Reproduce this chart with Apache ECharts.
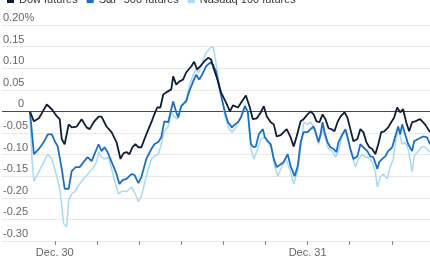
<!DOCTYPE html>
<html>
<head>
<meta charset="utf-8">
<script src="https://cdn.jsdelivr.net/npm/echarts@6/dist/echarts.min.js"></script>
<style>
  html, body { margin: 0; padding: 0; background: #fff; }
  #chart { width: 430px; height: 258px; }
</style>
</head>
<body>
<div id="chart"></div>
<script>
  // hours since Dec. 30 00:00, % change
  var dowHours = [-2.36, -1.98, -1.51, -1.13, -0.76, -0.28, 0.19, 0.47, 0.66, 0.94, 1.32, 1.61, 2.08, 2.55, 3.02, 3.31, 3.69, 4.16, 4.44, 4.91, 5.39, 5.86, 6.24, 6.52, 6.80, 7.09, 7.37, 7.65, 7.94, 8.22, 8.69, 9.17, 9.45, 9.73, 10.02, 10.30, 10.58, 11.06, 11.24, 11.53, 11.81, 12.19, 12.47, 12.95, 13.23, 13.51, 13.80, 14.17, 14.55, 14.84, 15.12, 15.50, 15.78, 16.25, 16.63, 16.91, 17.39, 17.76, 18.14, 18.52, 18.80, 19.18, 19.56, 19.84, 20.13, 20.50, 20.79, 21.07, 21.45, 21.73, 22.02, 22.39, 22.68, 22.96, 23.34, 23.62, 24.00, 24.28, 24.57, 24.85, 25.13, 25.42, 25.70, 25.99, 26.27, 26.55, 26.84, 27.12, 27.50, 27.78, 28.06, 28.35, 28.73, 29.01, 29.29, 29.58, 29.86, 30.14, 30.43, 30.71, 30.99, 31.28, 31.65, 31.94, 32.22, 32.50, 32.79, 33.07, 33.36, 33.64, 33.92, 34.21, 34.68, 35.15, 35.62];
  var dowValues = [0, -0.023, -0.016, 0, 0.016, 0.005, -0.011, -0.018, -0.064, -0.076, -0.030, -0.037, -0.035, -0.018, -0.037, -0.041, -0.025, -0.012, -0.012, -0.035, -0.048, -0.071, -0.110, -0.097, -0.094, -0.099, -0.083, -0.076, -0.083, -0.083, -0.053, -0.025, -0.007, 0.009, 0.009, 0.039, 0.044, 0.051, 0.081, 0.062, 0.069, 0.074, 0.090, 0.104, 0.115, 0.097, 0.104, 0.115, 0.124, 0.120, 0.097, 0.069, 0.044, 0.021, 0, 0.014, 0.009, 0.023, 0.037, 0.009, -0.018, -0.016, -0.002, 0.012, -0.012, -0.025, -0.030, -0.058, -0.055, -0.048, -0.041, -0.060, -0.081, -0.058, -0.023, -0.018, -0.007, 0, -0.007, -0.023, -0.025, -0.007, -0.018, -0.039, -0.041, -0.046, -0.025, -0.012, -0.002, -0.014, -0.041, -0.069, -0.064, -0.041, -0.048, -0.071, -0.083, -0.087, -0.099, -0.076, -0.048, -0.046, -0.037, -0.025, -0.014, 0.009, -0.002, 0.005, -0.025, -0.046, -0.025, -0.023, -0.018, -0.030, -0.048];

  var spHours = [-2.36, -1.98, -1.51, -1.04, -0.66, -0.28, 0, 0.28, 0.66, 0.94, 1.32, 1.61, 1.98, 2.36, 2.74, 3.12, 3.50, 3.97, 4.16, 4.44, 4.72, 5.01, 5.39, 5.67, 5.86, 6.14, 6.43, 6.80, 7.28, 7.56, 7.94, 8.22, 8.69, 9.17, 9.45, 9.83, 10.11, 10.39, 10.77, 11.06, 11.24, 11.53, 11.72, 12.00, 12.47, 12.76, 13.13, 13.42, 13.70, 13.99, 14.36, 14.74, 15.02, 15.31, 15.59, 15.87, 16.16, 16.44, 16.82, 17.10, 17.39, 17.67, 18.05, 18.33, 18.62, 18.90, 19.09, 19.37, 19.75, 19.94, 20.22, 20.50, 20.79, 21.07, 21.36, 21.73, 22.11, 22.39, 22.77, 23.06, 23.34, 23.62, 24.00, 24.28, 24.57, 24.76, 25.04, 25.23, 25.42, 25.61, 25.89, 26.17, 26.46, 26.74, 26.93, 27.31, 27.59, 27.78, 28.06, 28.35, 28.73, 29.01, 29.29, 29.67, 29.95, 30.24, 30.62, 30.81, 31.09, 31.37, 31.65, 32.03, 32.32, 32.60, 32.79, 32.98, 33.26, 33.55, 33.92, 34.11, 34.49, 34.96, 35.34, 35.62];
  var spValues = [0, -0.099, -0.087, -0.071, -0.053, -0.053, -0.069, -0.081, -0.133, -0.179, -0.179, -0.138, -0.129, -0.129, -0.117, -0.106, -0.115, -0.087, -0.076, -0.092, -0.083, -0.094, -0.117, -0.133, -0.145, -0.168, -0.159, -0.156, -0.145, -0.147, -0.166, -0.152, -0.110, -0.087, -0.076, -0.071, -0.060, -0.023, -0.025, 0.005, 0.023, -0.002, -0.014, 0.012, 0.023, 0.046, 0.069, 0.085, 0.074, 0.085, 0.104, 0.113, 0.108, 0.092, 0.058, 0.028, -0.002, -0.025, -0.037, -0.030, -0.025, -0.014, 0.012, -0.002, -0.076, -0.083, -0.081, -0.053, -0.041, -0.060, -0.069, -0.076, -0.110, -0.129, -0.124, -0.117, -0.099, -0.127, -0.150, -0.127, -0.071, -0.048, -0.048, -0.041, -0.035, -0.048, -0.071, -0.053, -0.025, -0.048, -0.071, -0.083, -0.087, -0.094, -0.071, -0.053, -0.041, -0.058, -0.087, -0.110, -0.104, -0.076, -0.083, -0.092, -0.104, -0.106, -0.133, -0.117, -0.110, -0.104, -0.092, -0.083, -0.058, -0.035, -0.053, -0.030, -0.053, -0.076, -0.092, -0.069, -0.064, -0.058, -0.060, -0.076];

  var nasdaqHours = [-2.36, -2.17, -1.98, -1.51, -1.04, -0.66, -0.28, 0.19, 0.47, 0.66, 0.85, 1.13, 1.32, 1.61, 1.89, 2.36, 2.74, 3.31, 3.69, 3.97, 4.16, 4.44, 4.72, 5.10, 5.39, 5.76, 6.05, 6.43, 6.80, 7.28, 7.65, 7.94, 8.22, 8.69, 9.17, 9.45, 9.83, 10.11, 10.39, 10.77, 11.06, 11.34, 11.62, 12.00, 12.47, 12.76, 13.13, 13.42, 13.70, 13.99, 14.36, 14.74, 15.02, 15.21, 15.50, 15.78, 16.16, 16.54, 16.82, 17.10, 17.39, 17.67, 18.05, 18.33, 18.62, 18.90, 19.18, 19.56, 19.94, 20.32, 20.60, 20.88, 21.17, 21.54, 21.92, 22.30, 22.68, 23.06, 23.34, 23.62, 24.00, 24.28, 24.57, 24.85, 25.04, 25.42, 25.70, 25.99, 26.36, 26.65, 26.93, 27.31, 27.59, 27.88, 28.25, 28.54, 28.82, 29.20, 29.48, 29.77, 30.14, 30.43, 30.62, 30.90, 31.18, 31.56, 31.84, 32.13, 32.41, 32.69, 32.98, 33.26, 33.55, 33.92, 34.11, 34.49, 34.87, 35.15, 35.62];
  var nasdaqValues = [0, -0.110, -0.161, -0.140, -0.117, -0.099, -0.110, -0.150, -0.179, -0.219, -0.260, -0.267, -0.207, -0.191, -0.186, -0.168, -0.156, -0.140, -0.129, -0.117, -0.094, -0.106, -0.110, -0.106, -0.133, -0.168, -0.191, -0.184, -0.186, -0.175, -0.191, -0.209, -0.196, -0.150, -0.110, -0.104, -0.099, -0.076, -0.046, -0.035, -0.002, -0.012, -0.018, 0.012, 0.028, 0.058, 0.085, 0.097, 0.090, 0.113, 0.136, 0.147, 0.150, 0.127, 0.081, 0.039, -0.012, -0.041, -0.048, -0.041, -0.023, -0.014, 0.016, -0.007, -0.087, -0.110, -0.092, -0.064, -0.060, -0.076, -0.087, -0.127, -0.150, -0.129, -0.110, -0.133, -0.168, -0.138, -0.087, -0.025, -0.030, -0.025, -0.035, -0.058, -0.076, -0.041, -0.064, -0.087, -0.092, -0.106, -0.092, -0.053, -0.046, -0.069, -0.104, -0.129, -0.110, -0.099, -0.106, -0.106, -0.117, -0.140, -0.175, -0.152, -0.145, -0.156, -0.129, -0.110, -0.060, -0.046, -0.076, -0.071, -0.087, -0.140, -0.104, -0.092, -0.081, -0.083, -0.094];

  var seriesNames = ['Dow futures', 'S&P 500 futures', 'Nasdaq 100 futures'];
  var seriesColors = ['#0f1d36', '#1d6fc3', '#a8daf2'];
  var tickHours = [0, 4, 8, 12, 16, 20, 24, 28, 32];
  var dayLabels = { 0: 'Dec. 30', 24: 'Dec. 31' };

  function pairs(xs, ys) {
    return xs.map(function (x, i) { return [x, ys[i]]; });
  }

  // gridline colours, zero line darker (index 6 counting from -0.30)
  var gridColors = [];
  for (var i = 0; i < 11; i++) gridColors.push(i === 6 ? '#4a4a4a' : '#e8e8e8');

  var myChart = echarts.init(document.getElementById('chart'), null, { renderer: 'canvas' });
  myChart.setOption({
    animation: false,
    textStyle: { fontFamily: 'Liberation Sans, Arial, sans-serif' },
    legend: {
      data: seriesNames,
      left: 2,
      top: -11,
      icon: 'rect',
      itemWidth: 7,
      itemHeight: 7,
      itemGap: 9,
      textStyle: { fontSize: 11, color: '#333' }
    },
    grid: { left: 0, right: 0, top: 25, bottom: 17 },
    xAxis: {
      type: 'value',
      min: -5.01,
      max: 35.62,
      axisLine: { show: true, onZero: false, lineStyle: { color: '#e8e8e8', width: 1 } },
      splitLine: { show: false },
      axisTick: {
        show: true,
        customValues: tickHours,
        length: 4,
        lineStyle: { color: '#888', width: 1 }
      },
      axisLabel: {
        customValues: [0, 24],
        formatter: function (v) { return dayLabels[v] || ''; },
        color: '#666',
        fontSize: 11,
        margin: 6
      }
    },
    yAxis: {
      type: 'value',
      min: -0.30,
      max: 0.20,
      interval: 0.05,
      axisLine: { show: false },
      axisTick: { show: false },
      splitLine: { lineStyle: { color: gridColors, width: 1 } },
      axisLabel: {
        inside: true,
        margin: 1,
        verticalAlign: 'bottom',
        lineHeight: 12,
        padding: [0, 0, 1, 0],
        color: '#666',
        fontSize: 11,
        formatter: function (v) {
          var r = Math.round(v * 100) / 100;
          if (r === 0) return '{z|0}';
          if (Math.abs(r - 0.2) < 1e-9) return '0.20%';
          return r.toFixed(2);
        },
        rich: { z: { padding: [0, 0, 0, 15], color: '#666', fontSize: 11, lineHeight: 12 } }
      }
    },
    series: [
      {
        name: seriesNames[2], type: 'line', showSymbol: false, z: 2,
        data: pairs(nasdaqHours, nasdaqValues),
        lineStyle: { color: seriesColors[2], width: 1.5 },
        itemStyle: { color: seriesColors[2] }
      },
      {
        name: seriesNames[1], type: 'line', showSymbol: false, z: 3,
        data: pairs(spHours, spValues),
        lineStyle: { color: seriesColors[1], width: 1.8 },
        itemStyle: { color: seriesColors[1] }
      },
      {
        name: seriesNames[0], type: 'line', showSymbol: false, z: 4,
        data: pairs(dowHours, dowValues),
        lineStyle: { color: seriesColors[0], width: 1.8 },
        itemStyle: { color: seriesColors[0] }
      }
    ]
  });
</script>
</body>
</html>
